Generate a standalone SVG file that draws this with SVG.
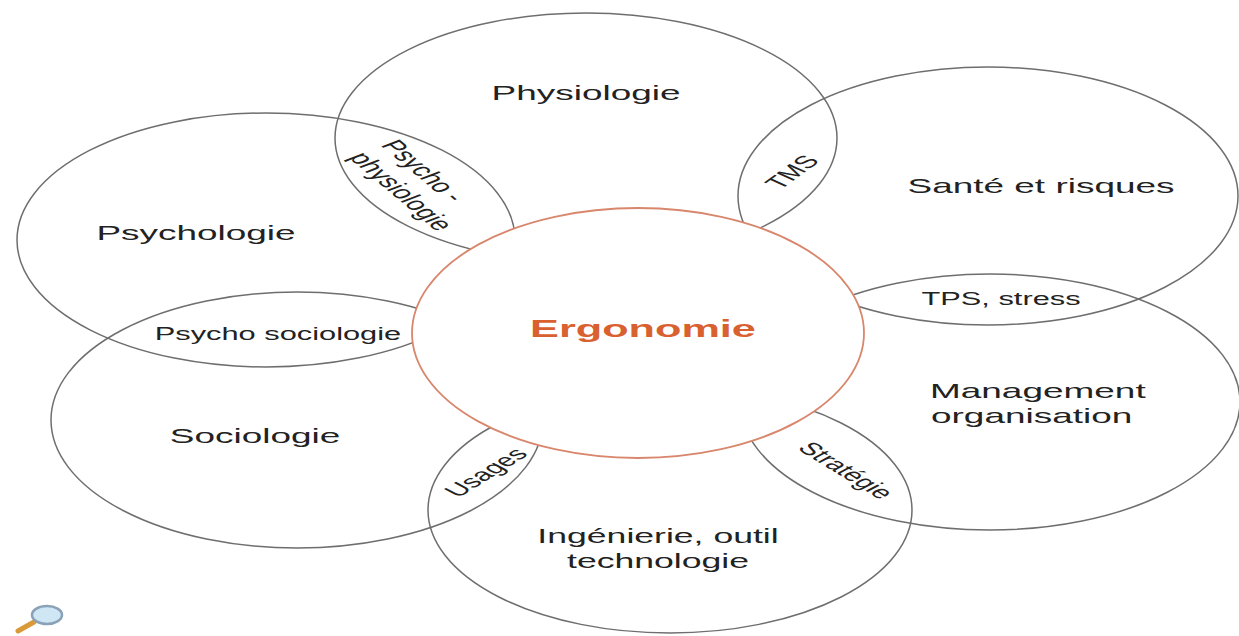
<svg xmlns="http://www.w3.org/2000/svg" width="1239" height="636" viewBox="0 0 1239 636">
<style>
.ring{fill:none;stroke:#6e6e6e;stroke-width:1.5}
.core{fill:#ffffff;stroke:#d8866c;stroke-width:1.8}
.lbl{font-family:"Liberation Sans",Arial,sans-serif;font-size:21px;fill:#222;text-anchor:middle}
.sm{font-family:"Liberation Sans",Arial,sans-serif;font-size:17.5px;fill:#222;text-anchor:middle}
.rot{font-family:"Liberation Sans",Arial,sans-serif;font-size:18px;fill:#222}
.main{font-family:"Liberation Sans",Arial,sans-serif;font-size:23px;font-weight:bold;fill:#d9602f;text-anchor:middle}
</style>
<rect width="1239" height="636" fill="#ffffff"/>
<g id="physiologie">
<ellipse class="ring" cx="586" cy="138" rx="251" ry="125"/>
<text class="lbl" transform="translate(586,100) scale(1.76,1)">Physiologie</text>
</g>
<g id="psychologie">
<ellipse class="ring" cx="266" cy="240" rx="249" ry="127"/>
<text class="lbl" transform="translate(196,240) scale(1.76,1)">Psychologie</text>
</g>
<g id="sante">
<ellipse class="ring" cx="988" cy="196" rx="250" ry="129"/>
<text class="lbl" transform="translate(1041,193) scale(1.76,1)">Santé et risques</text>
</g>
<g id="management">
<ellipse class="ring" cx="990" cy="402" rx="250" ry="128"/>
<text class="lbl" style="text-anchor:start" transform="translate(930,398) scale(1.76,1)">Management</text>
<text class="lbl" style="text-anchor:start" transform="translate(931,423) scale(1.76,1)">organisation</text>
</g>
<g id="ingenierie">
<ellipse class="ring" cx="670" cy="510" rx="242" ry="123"/>
<text class="lbl" style="font-size:20px" transform="translate(658,543) scale(1.78,1)">Ingénierie, outil</text>
<text class="lbl" style="font-size:20px" transform="translate(658,568) scale(1.78,1)">technologie</text>
</g>
<g id="sociologie">
<ellipse class="ring" cx="297" cy="420" rx="246" ry="128"/>
<text class="lbl" transform="translate(255,443) scale(1.76,1)">Sociologie</text>
</g>
<g id="ergonomie">
<ellipse class="core" cx="638" cy="333" rx="226" ry="125"/>
<text class="main" transform="translate(643,337) scale(1.88,1)">Ergonomie</text>
</g>
<g id="overlaps">
<g transform="translate(348,157.6) scale(1.76,1) rotate(55.7)">
<text class="rot" x="0" y="-22">Psycho -</text>
<text class="rot" x="0" y="0">physiologie</text>
</g>
<text class="sm" transform="translate(792,172) scale(1.76,1) rotate(-51.9)" y="6">TMS</text>
<text class="sm" transform="translate(278,340) scale(1.76,1)">Psycho sociologie</text>
<text class="sm" transform="translate(1001,305) scale(1.76,1)">TPS, stress</text>
<text class="sm" transform="translate(487,473) scale(1.76,1) rotate(-47.2)" y="5">Usages</text>
<text class="sm" transform="translate(845,471) scale(1.76,1) rotate(47.1)" y="5">Stratégie</text>
</g>
<g id="connectors"/>
<g id="magnifier">
<line x1="18" y1="631" x2="34" y2="622" stroke="#d99a3a" stroke-width="5" stroke-linecap="round"/>
<ellipse cx="47" cy="615" rx="15" ry="9" fill="#cfe6f5" stroke="#8aa2b8" stroke-width="2.5"/>
</g>
</svg>
